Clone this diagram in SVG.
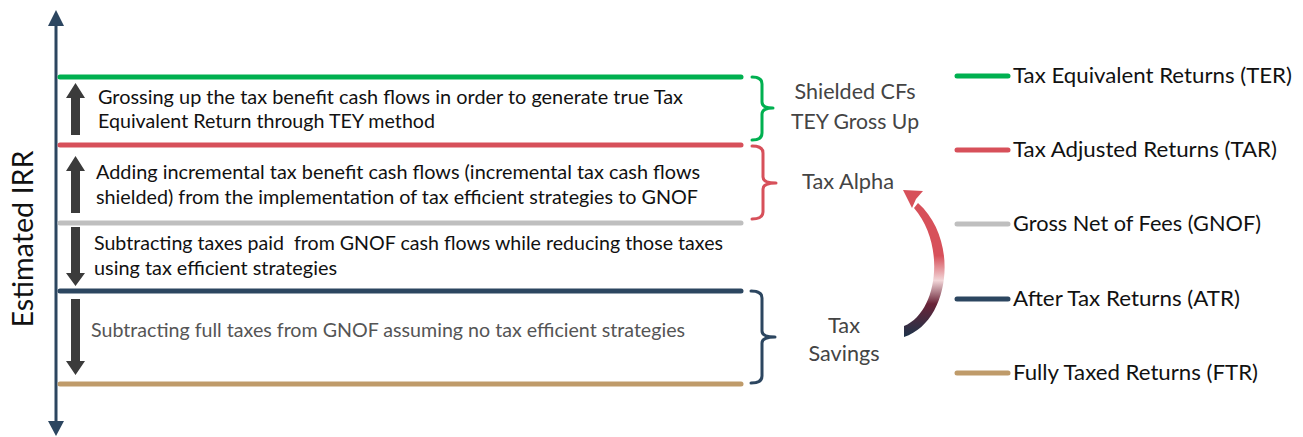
<svg xmlns="http://www.w3.org/2000/svg" width="1303" height="437" viewBox="0 0 1303 437">
<style>
.t{font-family:Lato,"Open Sans","Liberation Sans",sans-serif;}
.body{font-size:19px;fill:#111111;}
.gray{fill:#555555;}
.side{font-size:22px;fill:#444444;text-anchor:middle;}
.leg{font-size:21px;fill:#111111;}
.lvl{stroke-width:5;stroke-linecap:round;fill:none;}
.brace{stroke-width:3;fill:none;stroke-linecap:round;stroke-linejoin:round;}
.arr{fill:#3B3B3B;}
.green{stroke:#00B050;}
.red{stroke:#D7505A;}
.grey{stroke:#BFBFBF;}
.navy{stroke:#2C4660;}
.tan{stroke:#BF9B6A;}
</style>
<defs>
<linearGradient id="cg" gradientUnits="userSpaceOnUse" x1="0" y1="190" x2="0" y2="336">
<stop offset="0" stop-color="#D7505A"/>
<stop offset="0.45" stop-color="#D7505A"/>
<stop offset="0.62" stop-color="#F2D6D8"/>
<stop offset="0.78" stop-color="#6A2438"/>
<stop offset="1" stop-color="#1F3349"/>
</linearGradient>
</defs>
<rect width="1303" height="437" fill="#FFFFFF"/>
<g id="axis">
<line x1="56" y1="24" x2="56" y2="424" stroke="#2C4660" stroke-width="3"/>
<polygon points="56,10 64,26 48,26" fill="#2C4660"/>
<polygon points="56,436 64,421 48,421" fill="#2C4660"/>
<text class="t" font-size="28" fill="#111111" text-anchor="middle" transform="translate(33,239) rotate(-90)" textLength="177" lengthAdjust="spacingAndGlyphs">Estimated IRR</text>
</g>
<g id="levels">
<line class="lvl green" x1="60" y1="77" x2="741" y2="77"/>
<line class="lvl red" x1="60" y1="145" x2="741" y2="145"/>
<line class="lvl grey" x1="60" y1="223" x2="741" y2="223"/>
<line class="lvl navy" x1="60" y1="291" x2="741" y2="291"/>
<line class="lvl tan" x1="60" y1="384" x2="741" y2="384"/>
</g>
<g id="step-ter">
<polygon class="arr" points="75.5,83 85,98 80,98 80,135 71,135 71,98 66,98"/>
<text class="t body" x="98" y="104" textLength="585" lengthAdjust="spacingAndGlyphs">Grossing up the tax benefit cash flows in order to generate true Tax</text>
<text class="t body" x="98" y="128" textLength="337" lengthAdjust="spacingAndGlyphs">Equivalent Return through TEY method</text>
</g>
<g id="step-tar">
<polygon class="arr" points="75.5,156 85,171 80,171 80,213 71,213 71,171 66,171"/>
<text class="t body" x="96" y="179" textLength="604" lengthAdjust="spacingAndGlyphs">Adding incremental tax benefit cash flows (incremental tax cash flows</text>
<text class="t body" x="96" y="204" textLength="602" lengthAdjust="spacingAndGlyphs">shielded) from the implementation of tax efficient strategies to GNOF</text>
</g>
<g id="step-atr">
<polygon class="arr" points="71,227 80,227 80,273 85,273 75.5,286 66,273 71,273"/>
<text class="t body" x="94" y="250" textLength="629" lengthAdjust="spacingAndGlyphs" style="white-space:pre">Subtracting taxes paid  from GNOF cash flows while reducing those taxes</text>
<text class="t body" x="94" y="275" textLength="243" lengthAdjust="spacingAndGlyphs">using tax efficient strategies</text>
</g>
<g id="step-ftr">
<polygon class="arr" points="71,299 80,299 80,361 85,361 75.5,375 66,361 71,361"/>
<text class="t body gray" x="91" y="337" textLength="594" lengthAdjust="spacingAndGlyphs">Subtracting full taxes from GNOF assuming no tax efficient strategies</text>
</g>
<g id="shielded">
<path class="brace green" d="M752 77 Q762 77 762 84 L762 102 Q762 108 773 108 Q762 108 762 114 L762 133 Q762 140 752 140"/>
<text class="t side" x="855" y="99" textLength="121" lengthAdjust="spacingAndGlyphs">Shielded CFs</text>
<text class="t side" x="855" y="129" textLength="128" lengthAdjust="spacingAndGlyphs">TEY Gross Up</text>
</g>
<g id="tax-alpha">
<path class="brace red" d="M752 146 Q763 146 763 153 L763 177 Q763 183 776 183 Q763 183 763 189 L763 212 Q763 219 752 219"/>
<text class="t side" x="848" y="189" textLength="92" lengthAdjust="spacingAndGlyphs">Tax Alpha</text>
</g>
<g id="tax-savings">
<path class="brace navy" d="M751 291 Q762 291 762 298 L762 331 Q762 337 775 337 Q762 337 762 343 L762 376 Q762 383 751 383"/>
<text class="t side" x="844" y="333" textLength="32" lengthAdjust="spacingAndGlyphs">Tax</text>
<text class="t side" x="844" y="361" textLength="71" lengthAdjust="spacingAndGlyphs">Savings</text>
</g>
<g id="connectors">
<path d="M904 337 C950 322 960 240 918 203 L914 208 C946 245 938 312 904 326 Z" fill="url(#cg)"/>
<polygon points="903,190 923,191 916,199 912,208" fill="#D7505A"/>
</g>
<g id="legend">
<g id="leg-ter"><line class="lvl green" x1="957" y1="76" x2="1008" y2="76"/><text class="t leg" x="1013" y="83" textLength="279" lengthAdjust="spacingAndGlyphs">Tax Equivalent Returns (TER)</text></g>
<g id="leg-tar"><line class="lvl red" x1="957" y1="150" x2="1008" y2="150"/><text class="t leg" x="1013" y="157" textLength="264" lengthAdjust="spacingAndGlyphs">Tax Adjusted Returns (TAR)</text></g>
<g id="leg-gnof"><line class="lvl grey" x1="957" y1="224" x2="1008" y2="224"/><text class="t leg" x="1013" y="231" textLength="248" lengthAdjust="spacingAndGlyphs">Gross Net of Fees (GNOF)</text></g>
<g id="leg-atr"><line class="lvl navy" x1="957" y1="299" x2="1008" y2="299"/><text class="t leg" x="1013" y="306" textLength="227" lengthAdjust="spacingAndGlyphs">After Tax Returns (ATR)</text></g>
<g id="leg-ftr"><line class="lvl tan" x1="957" y1="373" x2="1008" y2="373"/><text class="t leg" x="1013" y="380" textLength="245" lengthAdjust="spacingAndGlyphs">Fully Taxed Returns (FTR)</text></g>
</g>
</svg>
